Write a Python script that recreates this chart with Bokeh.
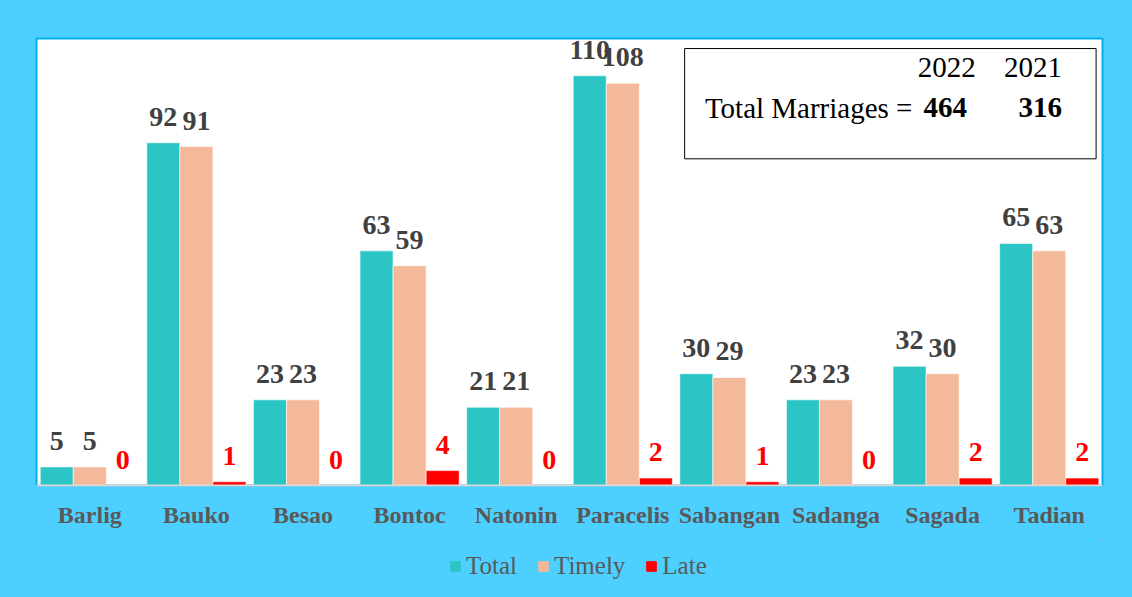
from bokeh.plotting import figure
from bokeh.models import ColumnDataSource, FactorRange, Range1d, Legend, LegendItem, BoxAnnotation, Label
from bokeh.layouts import column
from bokeh.core.properties import value
from bokeh.transform import dodge
from bokeh.embed import file_html
from bokeh.resources import INLINE

categories = ["Barlig", "Bauko", "Besao", "Bontoc", "Natonin", "Paracelis",
              "Sabangan", "Sadanga", "Sagada", "Tadian"]
total = [5, 92, 23, 63, 21, 110, 30, 23, 32, 65]
timely = [5, 91, 23, 59, 21, 108, 29, 23, 30, 63]
late = [0, 1, 0, 4, 0, 2, 1, 0, 2, 2]
series_names = ["Total", "Timely", "Late"]
years = ["2022", "2021"]
year_totals = [464, 316]

SERIF = "Liberation Serif"
BG = "#4dcfff"
colors = ["#2cc5c5", "#f4b99b", "#ff0000"]
label_colors = ["#404040", "#404040", "#ff0000"]

src = ColumnDataSource(dict(
    cat=categories, total=total, timely=timely, late=late,
    total_s=[str(v) for v in total], timely_s=[str(v) for v in timely],
    late_s=[str(v) for v in late],
))

p = figure(width=1132, height=540, output_backend="svg", toolbar_location=None,
           x_range=FactorRange(*categories, range_padding=0), y_range=Range1d(0, 120),
           min_border_left=36, min_border_top=38, min_border_right=30, min_border_bottom=55)
p.background_fill_color = "white"
p.border_fill_color = BG
p.outline_line_color = "#00b0f0"
p.outline_line_width = 2
p.xgrid.visible = False
p.ygrid.visible = False
p.yaxis.visible = False

w = 0.31
offsets = [-w, 0.0, w]
fields = ["total", "timely", "late"]
for i, f in enumerate(fields):
    p.vbar(x=dodge("cat", offsets[i], range=p.x_range), top=f, width=w, source=src,
           fill_color=colors[i], line_color="white", line_width=0.6)
    p.text(x=dodge("cat", offsets[i], range=p.x_range), y=f, text=f + "_s", source=src,
           text_align="center", text_baseline="alphabetic", y_offset=-26,
           text_font=value(SERIF), text_font_size="28px", text_font_style="bold",
           text_color=label_colors[i])

xa = p.xaxis[0]
xa.axis_line_color = "#d9d9d9"
xa.axis_line_width = 2
xa.major_tick_line_color = None
xa.minor_tick_line_color = None
xa.major_label_standoff = 10
xa.major_label_text_font = SERIF
xa.major_label_text_font_size = "24px"
xa.major_label_text_font_style = "bold"
xa.major_label_text_color = "#595959"

# Annotation box with totals
box = BoxAnnotation(left=6.08, right=9.94, bottom=87.7, top=117.3,
                    fill_color="white", fill_alpha=1, line_color="black", line_alpha=1,
                    line_width=1)
p.add_layout(box)

def lab(x, y, text, bold=False, align="right"):
    p.add_layout(Label(x=x, y=y, text=text, text_font=SERIF, text_font_size="29px",
                       text_font_style="bold" if bold else "normal", text_color="black",
                       text_align=align, text_baseline="alphabetic"))

lab(8.81, 112.3, years[0])
lab(9.62, 112.3, years[1])
lab(6.27, 101.4, "Total Marriages =", align="left")
lab(8.73, 101.4, str(year_totals[0]), bold=True)
lab(9.62, 101.4, str(year_totals[1]), bold=True)

# Legend strip below the chart
lg = figure(width=1132, height=57, output_backend="svg", toolbar_location=None,
            x_range=Range1d(0, 1), y_range=Range1d(0, 1),
            min_border_left=0, min_border_right=0, min_border_top=0, min_border_bottom=0)
lg.background_fill_color = None
lg.border_fill_color = BG
lg.outline_line_color = None
lg.xaxis.visible = False
lg.yaxis.visible = False
lg.xgrid.visible = False
lg.ygrid.visible = False
items = []
for i, name in enumerate(series_names):
    r = lg.vbar(x=[10], top=[10], bottom=[9], width=0.1, fill_color=colors[i], line_color=colors[i])
    items.append(LegendItem(label=name, renderers=[r]))
legend = Legend(items=items, orientation="horizontal", location=(413, 17),
                glyph_width=12, glyph_height=12, label_standoff=5, spacing=20,
                label_text_font=SERIF, label_text_font_size="25px", label_text_color="#595959",
                background_fill_alpha=0, border_line_color=None, margin=0, padding=4)
lg.add_layout(legend, "center")

layout = column(p, lg, spacing=0, styles={"background-color": BG})
open("out.html", "w").write(file_html(layout, INLINE))
